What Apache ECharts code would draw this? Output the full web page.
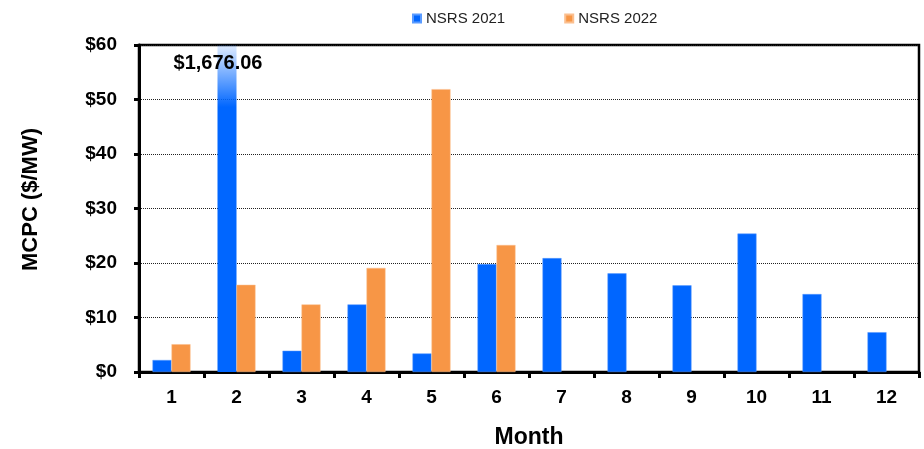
<!DOCTYPE html>
<html><head><meta charset="utf-8">
<script src="https://cdn.jsdelivr.net/npm/echarts@6/dist/echarts.min.js"></script>
<style>html,body{margin:0;padding:0;background:#fff}#c{width:924px;height:449px}</style>
</head><body><div id="c"></div>
<script>
var months = ['1','2','3','4','5','6','7','8','9','10','11','12'];
var nsrs2021 = [2.2, 1676.06, 3.9, 12.4, 3.4, 19.8, 20.9, 18.1, 15.9, 25.4, 14.3, 7.3];
var nsrs2022 = [5.1, 16.0, 12.4, 19.1, 51.9, 23.3, null, null, null, null, null, null];
var yTicks = [0, 10, 20, 30, 40, 50, 60];
var yMax = 60;
var FONT = '"Liberation Sans", Arial, sans-serif';

function buildData(arr) {
  return arr.map(function (v) {
    if (v == null) return null;
    if (v > yMax) {
      return {
        value: yMax,
        realValue: v,
        itemStyle: {
          color: { type: 'linear', x: 0, y: 0, x2: 0, y2: 1, colorStops: [
            { offset: 0, color: 'rgba(0,102,255,0.12)' },
            { offset: 0.19, color: '#0066FF' },
            { offset: 1, color: '#0066FF' }
          ] },
          borderWidth: 0
        },
        label: {
          show: true, position: 'insideTop', distance: 8, offset: [-9, 0],
          formatter: '$' + v.toLocaleString('en-US', { minimumFractionDigits: 2 }),
          fontFamily: FONT, fontWeight: 'bold', fontSize: 20, color: '#000'
        }
      };
    }
    return v;
  });
}

var chart = echarts.init(document.getElementById('c'));
chart.setOption({
  animation: false,
  backgroundColor: '#fff',
  legend: {
    top: 6, left: 407, itemWidth: 8, itemHeight: 8, itemGap: 59, icon: 'rect',
    textStyle: { fontFamily: FONT, fontSize: 15, color: '#222' },
    data: ['NSRS 2021', 'NSRS 2022']
  },
  grid: { left: 139, right: 5, top: 45, bottom: 77, containLabel: false, outerBoundsMode: 'none',
    show: true, borderColor: '#000', borderWidth: 2.5, backgroundColor: 'transparent' },
  xAxis: {
    type: 'category', data: months,
    name: 'Month', nameLocation: 'middle', nameGap: 54,
    nameTextStyle: { fontFamily: FONT, fontWeight: 'bold', fontSize: 23, color: '#000' },
    axisLine: { lineStyle: { color: '#000', width: 3 } },
    axisTick: { show: true, length: 6, lineStyle: { color: '#000', width: 3 } },
    axisLabel: { margin: 16, fontFamily: FONT, fontWeight: 'bold', fontSize: 19, color: '#000' }
  },
  yAxis: {
    type: 'value', min: 0, max: yMax, interval: 10,
    name: 'MCPC ($/MW)', nameLocation: 'middle', nameGap: 97,
    nameTextStyle: { fontFamily: FONT, fontWeight: 'bold', fontSize: 22, color: '#000', padding: [0, 0, 0, 18] },
    axisLine: { show: true, lineStyle: { color: '#000', width: 3 } },
    axisTick: { show: true, length: 5, lineStyle: { color: '#000', width: 3 } },
    axisLabel: { margin: 22, fontFamily: FONT, fontWeight: 'bold', fontSize: 19, color: '#000',
      formatter: function (v) { return yTicks.indexOf(v) >= 0 ? '$' + v : ''; } },
    splitLine: { show: true, lineStyle: { color: '#222', width: 1, type: [1, 1] } }
  },
  series: [
    { name: 'NSRS 2021', type: 'bar', barWidth: 19, barGap: '0%',
      itemStyle: { color: '#0066FF', borderColor: '#5a9bff', borderWidth: 0.5 },
      data: buildData(nsrs2021) },
    { name: 'NSRS 2022', type: 'bar', barWidth: 19, barGap: '0%',
      itemStyle: { color: '#F79646', borderColor: '#fbbf8f', borderWidth: 0.5 },
      data: buildData(nsrs2022) }
  ]
});
</script></body></html>
